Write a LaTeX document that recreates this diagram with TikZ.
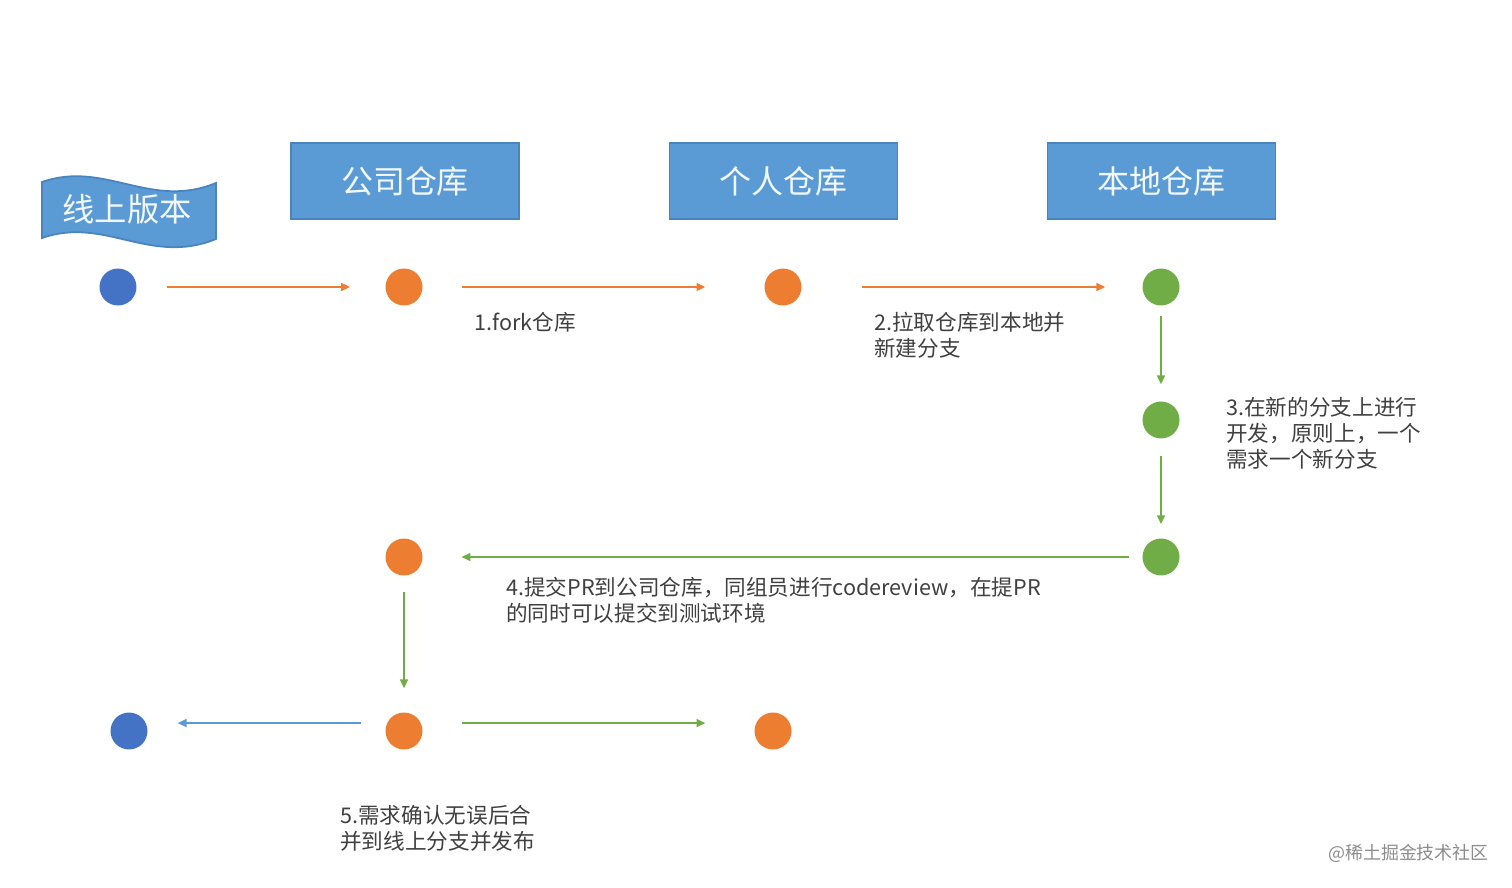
\documentclass[tikz,border=0pt]{standalone}
\usepackage{fontspec}
\setmainfont{Noto Sans CJK SC}
\usepackage{tikz}
\usetikzlibrary{arrows.meta}
\definecolor{custom_blue}{HTML}{4472C4}
\definecolor{custom_orange}{HTML}{ED7D31}
\definecolor{custom_green}{HTML}{70AD47}
\definecolor{custom_box}{HTML}{5B9BD5}
\definecolor{custom_edge}{HTML}{4A84BE}
\definecolor{custom_text}{HTML}{404040}

\begin{document}
\begin{tikzpicture}[x=0.02cm, y=-0.02cm, >={Triangle[length=5pt, width=4.5pt]},
  every node/.style={font=\fontsize{12.3}{14.7}\selectfont, text=custom_text},
  dot/.style={circle, minimum size=0.74cm, inner sep=0pt},
  repo/.style={draw=custom_edge, fill=custom_box, line width=1pt, minimum width=4.56cm,
    minimum height=1.52cm, text=white!92!custom_box, font=\fontsize{18.2}{20}\selectfont},
  note/.style={anchor=north west, align=left, inner sep=0pt},
  flow/.style={->, line width=1pt}]

  \useasboundingbox[fill=white] (0,0) rectangle (1512,888);

  % wave banner for the online version
  \draw[custom_edge, fill=custom_box, line width=1pt]
    (42,182) .. controls (105,160) and (150,210) .. (216,183)
    -- (216,239) .. controls (150,266) and (105,216) .. (42,238) -- cycle;
  \node[text=white!92!custom_box, font=\fontsize{18.4}{20}\selectfont] (online) at (127,209) {线上版本};

  % repositories
  \node[repo] (company) at (405,181) {公司仓库};
  \node[repo] (personal) at (783.5,181) {个人仓库};
  \node[repo] (local) at (1161.5,181) {本地仓库};

  % commits
  \node[dot, fill=custom_blue] (v1) at (118,287) {};
  \node[dot, fill=custom_orange] (c1) at (404,287) {};
  \node[dot, fill=custom_orange] (p1) at (783,287) {};
  \node[dot, fill=custom_green] (l1) at (1161,287) {};
  \node[dot, fill=custom_green] (l2) at (1161,420) {};
  \node[dot, fill=custom_green] (l3) at (1161,557) {};
  \node[dot, fill=custom_orange] (c2) at (404,557) {};
  \node[dot, fill=custom_blue] (v2) at (129,731) {};
  \node[dot, fill=custom_orange] (c3) at (404,731) {};
  \node[dot, fill=custom_orange] (t1) at (773,731) {};

  \draw[flow, custom_orange, shorten <=17pt, shorten >=20pt] (v1) -- (c1);
  \draw[flow, custom_orange, shorten <=22pt, shorten >=33.5pt] (c1) -- (p1);
  \draw[flow, custom_orange, shorten <=34pt, shorten >=21pt] (p1) -- (l1);
  \draw[flow, custom_green, shorten <=6pt, shorten >=9.6pt] (l1) -- (l2);
  \draw[flow, custom_green, shorten <=9.6pt, shorten >=8pt] (l2) -- (l3);
  \draw[flow, custom_green, shorten <=7.4pt, shorten >=22pt] (l3) -- (c2);
  \draw[flow, custom_green, shorten <=9pt, shorten >=13.6pt] (c2) -- (c3);
  \draw[flow, custom_box, shorten <=13.6pt, shorten >=17pt] ([yshift=4.5pt]c3.west) -- ([yshift=4.5pt]v2.east);
  \draw[flow, custom_green, shorten <=22pt, shorten >=27.8pt] ([yshift=4.5pt]c3.east) -- ([yshift=4.5pt]t1.west);

  % step notes
  \node[note] (s1) at (474,312) {1.fork仓库};
  \node[note] (s2) at (874,312) {2.拉取仓库到本地并\\新建分支};
  \node[note] (s3) at (1226,397) {3.在新的分支上进行\\开发，原则上，一个\\需求一个新分支};
  \node[note] (s4) at (506,577) {4.提交PR到公司仓库，同组员进行codereview，在提PR\\的同时可以提交到测试环境};
  \node[note] (s5) at (340,805) {5.需求确认无误后合\\并到线上分支并发布};

  \node[note, text=black!45, font=\fontsize{10.2}{12}\selectfont] (mark) at (1328,844) {@稀土掘金技术社区};

\end{tikzpicture}
\end{document}
